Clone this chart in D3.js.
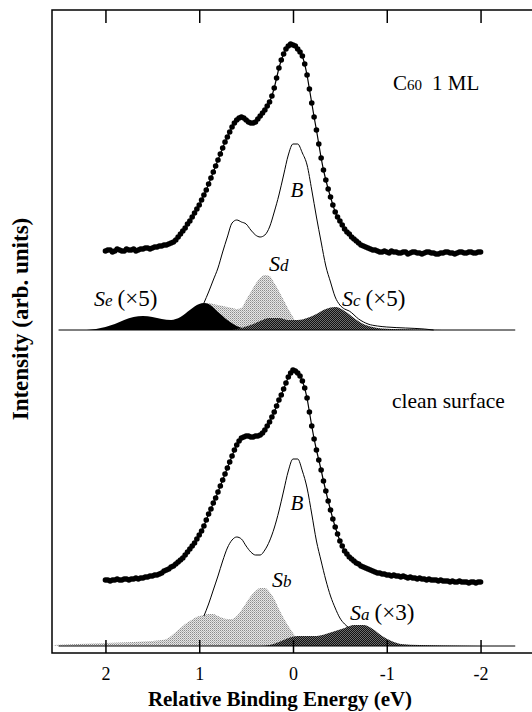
<!DOCTYPE html>
<html>
<head>
<meta charset="utf-8">
<script src="https://cdn.jsdelivr.net/npm/d3@7"></script>
<style>
  html, body { margin: 0; padding: 0; background: #fff; }
  svg { display: block; }
  text { font-family: "Liberation Serif", "Times New Roman", serif; fill: #000; }
</style>
</head>
<body>
<script>
// ---------------- DATA ----------------
const energyTicks = [2, 1, 0, -1, -2];
const xDomain = [2.57, -2.57];
const baselineExtent = [2.5, -2.37];

// measured spectra, sampled every 0.025 eV from 2.0 to -2.0 eV (161 points)
const c60Intensity = [
  79,80,80,78,79,81,80,79,79,81,
  80,80,81,79,80,81,81,82,82,81,
  82,83,83,84,84,85,85,86,87,88,
  90,93,96,99,102,106,109,113,117,121,
  125,130,135,140,146,152,158,164,170,176,
  182,188,193,198,203,207,210,212,213,212,
  210,208,207,207,208,211,214,217,220,224,
  228,234,242,252,262,270,276,281,284,286,
  285,284,281,278,274,266,255,241,227,213,
  200,186,172,160,150,141,133,125,118,113,
  109,105,101,98,96,93,91,89,87,85,
  84,83,82,81,80,80,79,78,78,79,
  78,77,79,78,78,77,77,78,78,76,
  77,78,78,77,77,76,77,78,78,77,
  77,76,76,77,77,78,78,77,77,76,
  77,78,78,77,77,78,78,77,77,78,
  78
];
const cleanIntensity = [
  66,66,65,66,66,67,66,66,67,67,
  66,67,67,68,67,68,68,69,69,70,
  70,71,71,72,73,75,76,77,79,80,
  82,84,86,88,91,94,97,100,103,107,
  111,115,120,126,132,137,143,148,154,160,
  166,172,178,184,190,196,201,205,208,209,
  210,210,209,209,210,210,211,213,216,220,
  224,229,234,240,246,251,257,263,269,273,
  276,275,273,270,265,258,248,234,220,207,
  196,186,176,165,155,145,136,127,119,112,
  105,100,95,92,89,87,85,83,82,80,
  79,78,77,76,75,74,73,73,72,72,
  71,71,70,71,70,70,69,70,69,68,
  69,68,68,67,68,67,67,66,67,66,
  66,66,65,66,65,65,65,64,65,64,
  64,65,64,64,64,63,64,64,63,64,
  64
];
const spectrumEnergy = d3.range(c60Intensity.length).map(i => +(2 - i * 0.025).toFixed(3));

// fitted bulk component B (C60 1 ML)
const bulkC60Energy = [0.95,0.9,0.85,0.8,0.75,0.7,0.65,0.6,0.55,0.5,0.45,0.4,0.35,0.3,0.25,0.2,0.15,0.1,0.05,0,-0.05,-0.1,-0.15,-0.2,-0.25,-0.3,-0.35,-0.4,-0.45,-0.5,-0.55,-0.6,-0.7,-0.8,-0.9,-1.0,-1.2,-1.4,-1.5];
const bulkC60Value  = [27,38,50,62,78,93,107,110,108,106,100,95,93,95,103,118,135,155,175,186,186,177,165,140,113,88,64,48,33,25,21,19,11,6,4,3,2,1,0];

// surface components (C60 1 ML)
const sdEnergy = [1.3,1.2,1.1,1.0,0.95,0.9,0.85,0.8,0.75,0.7,0.65,0.6,0.55,0.5,0.45,0.4,0.35,0.3,0.25,0.2,0.15,0.1,0.05,0,-0.05,-0.1,-0.15];
const sdValue  = [2,8,18,25,27,27,26,25,24,23,22,21,22,30,38,46,52,55,54,47,39,30,21,13,6,2,0];
const seEnergy = [2.2,2.1,2.0,1.9,1.8,1.7,1.6,1.5,1.4,1.3,1.2,1.1,1.0,0.95,0.9,0.8,0.7,0.6,0.5,0.4];
const seValue  = [0,1,3,6,10,13,14,13,11,10,13,20,26,27,26,18,10,4,1,0];
const scEnergy = [0.65,0.55,0.45,0.35,0.25,0.15,0.05,-0.05,-0.15,-0.25,-0.35,-0.45,-0.55,-0.65,-0.75,-0.85,-0.95,-1.05,-1.3,-1.6];
const scValue  = [0,2,5,9,12,12,10,10,12,16,21,23,19,12,6,3,1.5,1,0.5,0];

// fitted bulk component B (clean surface)
const bulkCleanEnergy = [0.95,0.9,0.85,0.8,0.75,0.7,0.65,0.6,0.55,0.5,0.45,0.4,0.35,0.3,0.25,0.2,0.15,0.1,0.05,0,-0.05,-0.1,-0.15,-0.2,-0.25,-0.3,-0.35,-0.4,-0.45,-0.5,-0.55,-0.6];
const bulkCleanValue  = [30,42,56,70,85,98,106,109,107,100,94,91,91,96,105,118,135,155,175,187,187,175,158,132,105,85,66,50,38,28,22,18];

// surface components (clean surface)
const sbEnergy = [2.55,2.3,2.0,1.7,1.5,1.4,1.35,1.3,1.25,1.2,1.15,1.1,1.05,1.0,0.95,0.9,0.85,0.8,0.75,0.7,0.65,0.6,0.55,0.5,0.45,0.4,0.35,0.3,0.25,0.2,0.15,0.1,0.05,0.0,-0.05,-0.1,-0.15,-0.2];
const sbValue  = [1,2,3,4,5,6,7,10,14,18,22,25,28,30,31,32,32,30,28,27,27,30,36,43,50,55,58,58,54,47,37,28,20,13,7,3,1,0];
const saEnergy = [0.35,0.25,0.15,0.05,-0.05,-0.15,-0.25,-0.35,-0.45,-0.55,-0.65,-0.75,-0.85,-0.95,-1.05,-1.15,-1.35,-1.6,-2.0];
const saValue  = [0,1,4,8,10,10,10,12,15,18,21,21,17,10,5,2,1,0.5,0];

// ---------------- CHART ----------------
const W = 532, H = 712;
const svg = d3.select("body").append("svg").attr("width", W).attr("height", H);

const defs = svg.append("defs");
const lt = defs.append("pattern").attr("id", "lightDot").attr("width", 2).attr("height", 2).attr("patternUnits", "userSpaceOnUse");
lt.append("rect").attr("width", 2).attr("height", 2).attr("fill", "#e6e6e6");
lt.append("rect").attr("width", 1).attr("height", 1).attr("fill", "#8c8c8c");
lt.append("rect").attr("x", 1).attr("y", 1).attr("width", 1).attr("height", 1).attr("fill", "#b4b4b4");
const dk = defs.append("pattern").attr("id", "darkDot").attr("width", 2).attr("height", 2).attr("patternUnits", "userSpaceOnUse");
dk.append("rect").attr("width", 2).attr("height", 2).attr("fill", "#111");
dk.append("rect").attr("width", 1).attr("height", 1).attr("fill", "#6e6e6e");
dk.append("rect").attr("x", 1).attr("y", 1).attr("width", 1).attr("height", 1).attr("fill", "#6e6e6e");

const x = d3.scaleLinear().domain(xDomain).range([52, 534]);
const yTop = d3.scaleLinear().domain([0, 100]).range([330, 230]);
const yBot = d3.scaleLinear().domain([0, 100]).range([646, 546]);

const zip = (es, vs) => es.map((e, i) => ({ e, v: vs[i] }));

function drawArea(y, es, vs, fill) {
  const area = d3.area().x(d => x(d.e)).y0(y(0)).y1(d => y(d.v)).curve(d3.curveMonotoneX);
  svg.append("path").datum(zip(es, vs)).attr("d", area).attr("fill", fill).attr("stroke", "none");
}
function drawLine(y, es, vs, width) {
  const line = d3.line().x(d => x(d.e)).y(d => y(d.v)).curve(d3.curveMonotoneX);
  svg.append("path").datum(zip(es, vs)).attr("d", line).attr("fill", "none").attr("stroke", "#000").attr("stroke-width", width);
}
function drawBaseline(y) {
  svg.append("line").attr("x1", x(baselineExtent[0])).attr("x2", x(baselineExtent[1]))
    .attr("y1", y(0)).attr("y2", y(0)).attr("stroke", "#000").attr("stroke-width", 1);
}
function drawSpectrum(y, vs) {
  const pts = zip(spectrumEnergy, vs);
  const line = d3.line().x(d => x(d.e)).y(d => y(d.v));
  svg.append("path").datum(pts).attr("d", line).attr("fill", "none").attr("stroke", "#000").attr("stroke-width", 1.2);
  svg.append("g").selectAll("circle").data(pts).join("circle")
    .attr("cx", d => x(d.e)).attr("cy", d => y(d.v)).attr("r", 2.8).attr("fill", "#000");
}

// upper panel: C60 1 ML
drawArea(yTop, sdEnergy, sdValue, "url(#lightDot)");
drawArea(yTop, seEnergy, seValue, "#000");
drawArea(yTop, scEnergy, scValue, "url(#darkDot)");
drawBaseline(yTop);
drawLine(yTop, bulkC60Energy, bulkC60Value, 1);
drawSpectrum(yTop, c60Intensity);

// lower panel: clean surface
drawArea(yBot, sbEnergy, sbValue, "url(#lightDot)");
drawArea(yBot, saEnergy, saValue, "url(#darkDot)");
drawBaseline(yBot);
drawLine(yBot, bulkCleanEnergy, bulkCleanValue, 1);
drawSpectrum(yBot, cleanIntensity);

// frame and axes
svg.append("rect").attr("x", 52).attr("y", 10).attr("width", 482).attr("height", 643)
  .attr("fill", "none").attr("stroke", "#000").attr("stroke-width", 1.5);

const topAxis = svg.append("g").attr("transform", "translate(0,10)")
  .call(d3.axisTop(x).tickValues(energyTicks).tickSize(-13).tickSizeOuter(0).tickFormat(""));
const botAxis = svg.append("g").attr("transform", "translate(0,653)")
  .call(d3.axisBottom(x).tickValues(energyTicks).tickSize(-13).tickSizeOuter(0).tickPadding(14).tickFormat(d => String(d)));
[topAxis, botAxis].forEach(g => {
  g.select(".domain").remove();
  g.selectAll(".tick line").attr("stroke", "#000").attr("stroke-width", 1.5);
});
botAxis.selectAll(".tick text")
  .style("font-family", "'Liberation Serif', 'Times New Roman', serif")
  .style("font-size", "18px").attr("fill", "#000");

// axis titles
svg.append("text").attr("x", 280).attr("y", 706).attr("text-anchor", "middle")
  .style("font-size", "21px").style("font-weight", "bold").text("Relative Binding Energy (eV)");
svg.append("text").attr("transform", "translate(28,319) rotate(-90)").attr("text-anchor", "middle")
  .style("font-size", "23px").style("font-weight", "bold").text("Intensity (arb. units)");

// panel labels
const t1 = svg.append("text").attr("x", 393).attr("y", 90).style("font-size", "21px");
t1.append("tspan").text("C");
t1.append("tspan").style("font-size", "15px").text("60");
t1.append("tspan").attr("dx", 10).text("1 ML");
svg.append("text").attr("x", 392).attr("y", 408).style("font-size", "21.5px").text("clean surface");

function compLabel(xp, yp, sub, factor) {
  const t = svg.append("text").attr("x", xp).attr("y", yp).style("font-size", "22px");
  t.append("tspan").style("font-style", "italic").text("S");
  t.append("tspan").style("font-style", "italic").style("font-size", "17px").text(sub);
  if (factor) t.append("tspan").attr("dx", 5).style("font-size", "23px").text("(\u00D7" + factor + ")");
}
compLabel(94, 306, "e", 5);
compLabel(342, 306, "c", 5);
compLabel(269, 271, "d", null);
compLabel(272, 587, "b", null);
compLabel(350, 620, "a", 3);

svg.append("text").attr("x", 297).attr("y", 197).attr("text-anchor", "middle")
  .style("font-size", "21px").style("font-style", "italic").text("B");
svg.append("text").attr("x", 297).attr("y", 510).attr("text-anchor", "middle")
  .style("font-size", "21px").style("font-style", "italic").text("B");
</script>
</body>
</html>
